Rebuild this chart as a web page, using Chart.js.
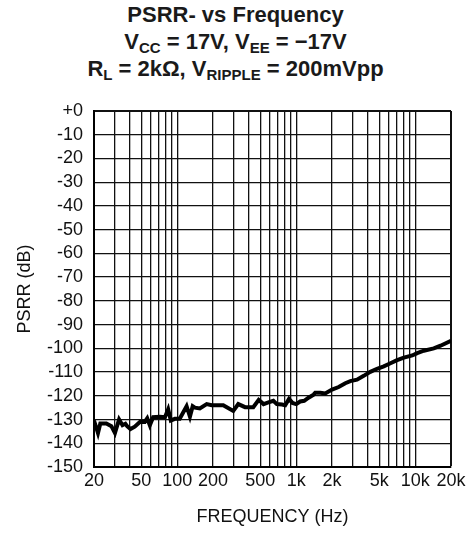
<!DOCTYPE html>
<html lang="en">
<head>
    <meta charset="UTF-8">
    <title>PSRR- vs Frequency</title>
    <script src="https://cdn.jsdelivr.net/npm/chart.js"></script>
    <style>
        body {
            margin: 0;
            background: #fff;
        }
        .wrap {
            position: relative;
            width: 471px;
            height: 542px;
        }
        .title {
            position: absolute;
            top: 1px;
            left: 0;
            width: 471px;
            text-align: center;
            font-family: 'Liberation Sans', Arial, sans-serif;
            font-weight: bold;
            font-size: 22px;
            line-height: 27px;
            color: #1a1a1a;
        }
        .title sub {
            font-size: 15px;
            vertical-align: -4px;
            line-height: 0;
        }
        canvas {
            position: absolute;
            top: 0;
            left: 0;
        }
    </style>
</head>
<body>
    <div class="wrap">
        <div class="title">
            PSRR- vs Frequency<br>
            V<sub>CC</sub> = 17V, V<sub>EE</sub> = &minus;17V<br>
            R<sub>L</sub> = 2k&Omega;, V<sub>RIPPLE</sub> = 200mVpp
        </div>
        <canvas id="psrr-chart" width="471" height="542"></canvas>
    </div>

    <script>
        // measured curve (Hz, dB)
        const freqs = [20, 21.6, 22.6, 25.4, 28, 30, 32.5, 34.7, 36.7, 38, 40.5, 44, 48.6, 53.4, 56, 58.9,
            62.8, 71.6, 78.9, 84, 88.4, 95.6, 105, 120, 128, 135, 141, 155, 177, 195, 215, 244, 296, 326,
            372, 436, 484, 532, 584, 643, 688, 760, 808, 870, 930, 1000, 1080, 1168, 1270, 1400, 1446,
            1594, 1756, 2000, 2276, 2587, 2850, 3245, 3694, 4200, 4780, 5445, 6200, 7050, 8030, 9450,
            10400, 11830, 14330, 16330, 20000];
        const psrr = [-130.4, -135.7, -131.7, -131.7, -132.8, -135.7, -130, -132.4, -131.8, -132.8, -134,
            -133, -131, -131, -129.5, -132.4, -129, -128.8, -129, -125.7, -130.4, -129.7, -129.7, -124.4,
            -128.8, -124.4, -125, -125.3, -123.5, -124, -124, -124, -126.4, -123.5, -124.8, -124.8, -121.7,
            -123.5, -122.8, -122.1, -123.5, -123.7, -124, -121.3, -123, -123.5, -122.4, -122.1, -120.8,
            -119.5, -118.7, -118.7, -119, -117.4, -116.3, -114.7, -113.8, -113.2, -111.6, -109.9, -108.6,
            -107.6, -106.3, -105, -103.9, -103, -102, -101, -100, -98.9, -96.8];

        const gridFreqs = [20, 30, 40, 50, 60, 70, 80, 90, 100, 200, 300, 400, 500, 600, 700, 800, 900,
            1000, 2000, 3000, 4000, 5000, 6000, 7000, 8000, 9000, 10000, 20000];
        const xLabels = {20: '20', 50: '50', 100: '100', 200: '200', 500: '500', 1000: '1k',
            2000: '2k', 5000: '5k', 10000: '10k', 20000: '20k'};
        const yTicks = [-150, -140, -130, -120, -110, -100, -90, -80, -70, -60, -50, -40, -30, -20, -10, 0];

        const points = freqs.map((f, i) => ({ x: f, y: psrr[i] }));
        const font = { family: "'Liberation Sans', Arial, sans-serif", size: 18 };

        new Chart(document.getElementById('psrr-chart'), {
            type: 'line',
            data: {
                datasets: [{
                    data: points,
                    borderColor: '#000',
                    borderWidth: 4,
                    pointRadius: 0,
                    tension: 0
                }]
            },
            options: {
                responsive: false,
                animation: false,
                layout: {
                    padding: { top: 111, left: 10, right: 20, bottom: 14 }
                },
                plugins: {
                    legend: { display: false },
                    tooltip: { enabled: false }
                },
                scales: {
                    x: {
                        type: 'logarithmic',
                        min: 20,
                        max: 20000,
                        afterBuildTicks: axis => {
                            axis.ticks = gridFreqs.map(v => ({ value: v }));
                        },
                        afterFit: axis => {
                            axis.height = 61;
                        },
                        grid: {
                            color: '#111',
                            lineWidth: ctx => (ctx.tick && ctx.tick.value === 20000) ? 2 : 1.3,
                            drawTicks: false
                        },
                        border: { color: '#000', width: 2 },
                        ticks: {
                            color: '#111',
                            font: font,
                            padding: 3,
                            autoSkip: false,
                            maxRotation: 0,
                            callback: v => xLabels[v] || ''
                        },
                        title: {
                            display: true,
                            text: 'FREQUENCY (Hz)',
                            color: '#111',
                            font: font,
                            padding: { top: 0, bottom: 0 }
                        }
                    },
                    y: {
                        min: -150,
                        max: 0,
                        afterBuildTicks: axis => {
                            axis.ticks = yTicks.map(v => ({ value: v }));
                        },
                        afterFit: axis => {
                            axis.width = 84;
                        },
                        grid: {
                            color: '#111',
                            lineWidth: ctx => (ctx.tick && ctx.tick.value === 0) ? 2 : 1.3,
                            drawTicks: false
                        },
                        border: { color: '#000', width: 2 },
                        ticks: {
                            color: '#111',
                            font: font,
                            padding: 11,
                            autoSkip: false,
                            callback: v => v === 0 ? '+0' : String(v)
                        },
                        title: {
                            display: true,
                            text: 'PSRR (dB)',
                            color: '#111',
                            font: font,
                            padding: { top: 4, bottom: 0 }
                        }
                    }
                }
            }
        });
    </script>
</body>
</html>
